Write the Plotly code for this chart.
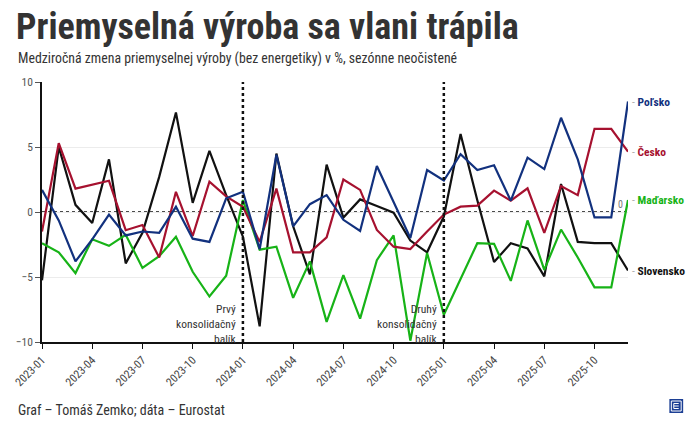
import plotly.graph_objects as go

months = [f"{y}-{m:02d}" for y in (2023, 2024, 2025) for m in range(1, 13)]

slovensko = [-5.25, 5.0, 0.55, -0.85, 4.05, -3.95, -1.6, 2.7, 7.65, 0.7, 4.7, 1.3,
             -1.9, -8.8, 4.5, -1.1, -4.8, 3.65, -0.43, 0.97, 0.46, -0.05, -2.2, -3.1,
             -0.35, 6.0, 0.9, -3.85, -2.4, -2.8, -4.95, 2.15, -2.3, -2.4, -2.4, -4.5]
cesko = [-1.5, 5.3, 1.8, 2.1, 2.4, -1.4, -1.0, -3.5, 1.55, -1.85, 2.33, 1.2,
         0.4, -2.3, 1.8, -3.1, -3.1, -1.95, 2.5, 1.7, -1.38, -2.67, -2.85, -1.5,
         -0.2, 0.41, 0.49, 1.64, 0.87, 1.82, -1.6, 2.0, 1.3, 6.4, 6.4, 4.64]
polsko = [1.7, -0.65, -3.8, -2.1, -0.2, -1.8, -1.5, -1.6, 0.4, -2.05, -2.3, 1.05,
          1.56, -2.87, 4.4, -1.1, 0.6, 1.3, -0.6, -1.46, 3.54, 0.8, -2.0, 3.23,
          2.42, 4.44, 3.23, 3.6, 0.87, 4.18, 3.3, 7.25, 4.05, -0.42, -0.42, 8.5]
madarsko = [-2.4, -3.1, -4.7, -2.1, -2.6, -1.75, -4.3, -3.4, -1.9, -4.6, -6.5, -4.9,
            0.92, -2.9, -2.67, -6.6, -3.8, -8.45, -4.85, -8.2, -3.7, -1.8, -9.9, -3.15,
            -7.9, -5.2, -2.4, -2.45, -5.3, -0.65, -4.45, -1.35, -3.5, -5.8, -5.8, 0.92]

series = [
    ("Poľsko", polsko, "#12317e"),
    ("Česko", cesko, "#a6112f"),
    ("Maďarsko", madarsko, "#17b317"),
    ("Slovensko", slovensko, "#111111"),
]

x_ticks = months[::3]
y_ticks = [-10, -5, 0, 5, 10]
packages = [("2024-01", "Prvý<br>konsolidačný<br>balík"),
            ("2025-01", "Druhý<br>konsolidačný<br>balík")]

FONT = "Roboto Condensed, Roboto, sans-serif"
W, H = 690, 426
L, R, T, B = 33, 62, 82, 84
PW, PH = W - L - R, H - T - B


def px(x):
    return (x - L) / PW


def py(y):
    return (H - B - y) / PH


fig = go.Figure()
for name, vals, col in reversed(series):
    fig.add_trace(go.Scatter(x=months, y=vals, mode="lines", name=name,
                             line=dict(color=col, width=2.2), hoverinfo="x+y"))

shapes = [
    dict(type="line", xref="x domain", yref="y", x0=0, x1=1, y0=0, y1=0,
         line=dict(color="#111", width=1.5, dash="dot"), layer="below"),
]
for m, _ in packages:
    shapes.append(dict(type="line", xref="x", yref="y", x0=m, x1=m, y0=-10, y1=10,
                       line=dict(color="#111", width=2.5, dash="dot")))

# logo
shapes.append(dict(type="rect", xref="paper", yref="paper", x0=px(670), x1=px(684),
                   y0=py(413), y1=py(399), fillcolor="#1c3f94", line=dict(width=0)))
shapes.append(dict(type="rect", xref="paper", yref="paper", x0=px(672), x1=px(682),
                   y0=py(411), y1=py(401), fillcolor="rgba(0,0,0,0)",
                   line=dict(color="white", width=1)))
for yy in (403.5, 406, 408.5):
    shapes.append(dict(type="line", xref="paper", yref="paper", x0=px(674.5), x1=px(679.5),
                       y0=py(yy), y1=py(yy), line=dict(color="white", width=1)))
shapes.append(dict(type="line", xref="paper", yref="paper", x0=px(674.5), x1=px(674.5),
                   y0=py(408.5), y1=py(403.5), line=dict(color="white", width=1)))

annotations = [
    dict(xref="paper", yref="paper", x=px(5), y=py(27), xanchor="left", yanchor="middle",
         text="<b>Priemyselná výroba sa vlani trápila</b>", showarrow=False,
         font=dict(family=FONT, size=36, color="#333")),
    dict(xref="paper", yref="paper", x=px(7), y=py(58), xanchor="left", yanchor="middle",
         text="Medziročná zmena priemyselnej výroby (bez energetiky) v %, sezónne neočistené",
         showarrow=False, font=dict(family=FONT, size=13.8, color="#333")),
    dict(xref="paper", yref="paper", x=px(7), y=py(410), xanchor="left", yanchor="middle",
         text="Graf – Tomáš Zemko; dáta – Eurostat", showarrow=False,
         font=dict(family=FONT, size=14, color="#333")),
    dict(xref="x", yref="y", x=months[-1], y=0, xanchor="right", yanchor="bottom",
         xshift=-3, text="0", showarrow=False, font=dict(family=FONT, size=10, color="#777")),
]
for m, txt in packages:
    annotations.append(dict(xref="x", yref="y", x=m, y=-10, xanchor="right", yanchor="bottom",
                            xshift=-4, yshift=-6, text=txt, align="right", showarrow=False,
                            font=dict(family=FONT, size=11.5, color="#333")))
for name, vals, col in series:
    annotations.append(dict(xref="x", yref="y", x=months[-1], y=vals[-1], xanchor="left",
                            yanchor="middle", xshift=2, showarrow=False,
                            text=f"<span style='color:#aaa'>-</span> <b>{name}</b>",
                            font=dict(family=FONT, size=11.5, color=col)))

fig.update_layout(
    width=W, height=H, margin=dict(l=L, r=R, t=T, b=B),
    paper_bgcolor="white", plot_bgcolor="white", showlegend=False,
    font=dict(family=FONT, size=11, color="#555"),
    shapes=shapes, annotations=annotations,
    xaxis=dict(type="category", categoryorder="array", categoryarray=months,
               range=[0, len(months) - 1], tickmode="array", tickvals=x_ticks,
               ticktext=x_ticks, tickangle=-45, showgrid=False, showline=True,
               linecolor="#111", linewidth=1.5, ticks="outside", ticklen=5,
               tickcolor="#111", tickfont=dict(family=FONT, size=11.5, color="#444"),
               zeroline=False),
    yaxis=dict(range=[-10, 10], tickvals=y_ticks, showgrid=True, gridcolor="#ececec",
               gridwidth=1, showline=True, linecolor="#111", linewidth=1.5,
               ticks="outside", ticklen=5, tickcolor="#555", zeroline=False,
               tickfont=dict(family=FONT, size=11.5, color="#555")),
)

fig.write_html("out.html")
